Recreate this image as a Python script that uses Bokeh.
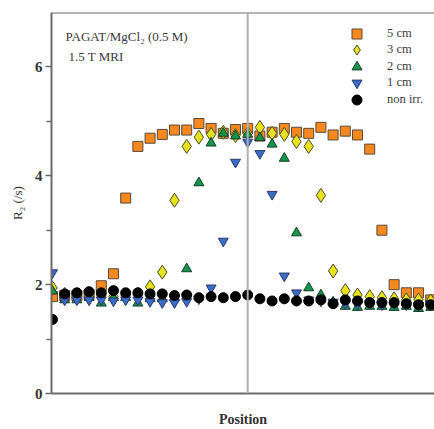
from bokeh.plotting import figure
from bokeh.models import Range1d, FixedTicker, Span, Label, Legend, LegendItem, ColumnDataSource
from bokeh.embed import file_html
from bokeh.resources import INLINE

# Data: position index 0..31
position = list(range(32))
cm5 = [1.78, 1.80, 1.80, 1.82, 1.98, 2.20, 3.59, 4.54, 4.69, 4.76, 4.84, 4.84, 4.96, 4.87, 4.78, 4.85,
       4.87, 4.73, 4.80, 4.87, 4.80, 4.78, 4.89, 4.75, 4.82, 4.75, 4.49, 3.00, 2.00, 1.85, 1.85, 1.72]
cm3 = [1.94, 1.82, 1.80, 1.78, 1.80, 1.78, 1.80, 1.82, 1.96, 2.23, 3.55, 4.54, 4.71, 4.76, 4.80, 4.74,
       4.78, 4.89, 4.78, 4.76, 4.63, 4.54, 3.64, 2.25, 1.89, 1.81, 1.78, 1.76, 1.74, 1.72, 1.72, 1.70]
cm2 = [1.88, 1.72, 1.72, 1.76, 1.66, 1.76, 1.76, 1.66, 1.74, 1.74, 1.76, 2.29, 3.87, 4.60, 4.78, 4.73,
       4.76, 4.70, 4.58, 4.32, 2.95, 1.94, 1.81, 1.68, 1.60, 1.58, 1.60, 1.60, 1.58, 1.60, 1.56, 1.58]
cm1 = [2.22, 1.72, 1.72, 1.72, 1.72, 1.70, 1.72, 1.72, 1.69, 1.67, 1.67, 1.69, 1.74, 1.94, 2.80, 4.25,
       4.62, 4.41, 3.66, 2.16, 1.85, 1.72, 1.70, 1.68, 1.65, 1.64, 1.65, 1.63, 1.65, 1.63, 1.62, 1.65]
nonirr = [1.36, 1.83, 1.85, 1.87, 1.85, 1.89, 1.85, 1.85, 1.83, 1.83, 1.80, 1.81, 1.76, 1.78, 1.76, 1.78,
          1.81, 1.74, 1.70, 1.74, 1.70, 1.70, 1.72, 1.65, 1.72, 1.70, 1.67, 1.67, 1.67, 1.65, 1.63, 1.63]
center_position = 16
y_ticks = [0, 2, 4, 6]
legend_labels = ["5 cm", "3 cm", "2 cm", "1 cm", "non irr."]

SERIF = "Liberation Serif"
AXIS_COL = "#6b6b6b"

p = figure(width=434, height=429, output_backend="svg", toolbar_location=None,
           x_range=Range1d(-0.08, 31.31), y_range=Range1d(0, 7))
p.min_border_left = 51
p.min_border_right = 0
p.min_border_top = 12
p.min_border_bottom = 35
p.outline_line_color = None
p.background_fill_color = "white"
p.border_fill_color = "white"
p.grid.visible = False

# top border line
p.add_layout(Span(location=7, dimension="width", line_color=AXIS_COL, line_width=2))
# center vertical line
p.add_layout(Span(location=center_position, dimension="height", line_color="#b0b0b0", line_width=2))

src = ColumnDataSource(dict(x=position, a=cm5, b=cm3, c=cm2, d=cm1, e=nonirr))
r5 = p.scatter("x", "a", source=src, marker="square", size=10, fill_color="#F5891F",
               line_color="#5a4a3a", line_width=1)
r3 = p.scatter("x", "b", source=src, marker="diamond", size=14, fill_color="#E8E21E",
               line_color="#4a4a2a", line_width=1)
r2 = p.scatter("x", "c", source=src, marker="triangle", size=10, fill_color="#12964A",
               line_color="#1a3a2a", line_width=1)
r1 = p.scatter("x", "d", source=src, marker="inverted_triangle", size=10, fill_color="#3C6BC8",
               line_color="#2a3a6a", line_width=1)
r0 = p.scatter("x", "e", source=src, marker="circle", size=10, fill_color="black",
               line_color="black", line_width=1)

# one legend box per row so that rows can be packed tightly with large glyphs
row_pitch = 16.5
for k, (lab, r) in enumerate(zip(legend_labels, [r5, r3, r2, r1, r0])):
    lg = Legend(items=[LegendItem(label=lab, renderers=[r])],
                location=(293, 347.5 - k * row_pitch), orientation="vertical")
    lg.background_fill_alpha = 0
    lg.border_line_color = None
    lg.padding = 0
    lg.margin = 0
    lg.spacing = 0
    lg.glyph_width = 25
    lg.glyph_height = 25
    lg.label_height = 25
    lg.label_standoff = 18
    lg.label_text_font = SERIF
    lg.label_text_font_size = "12.5px"
    lg.label_text_color = "#3a3a3a"
    p.add_layout(lg, "center")

# annotations
p.add_layout(Label(x=14, y=357, x_units="screen", y_units="screen",
                   text="PAGAT/MgCl\u2082 (0.5 M)", text_font=SERIF, text_font_size="13px",
                   text_color="#3a3a3a", text_baseline="middle"))
p.add_layout(Label(x=17, y=337, x_units="screen", y_units="screen",
                   text="1.5 T MRI", text_font=SERIF, text_font_size="13px",
                   text_color="#3a3a3a", text_baseline="middle"))

# y axis
ya = p.yaxis[0]
ya.ticker = FixedTicker(ticks=y_ticks, minor_ticks=[1, 3, 5])
ya.axis_line_color = AXIS_COL
ya.axis_line_width = 2
ya.major_tick_line_color = AXIS_COL
ya.minor_tick_line_color = AXIS_COL
ya.major_tick_line_width = 1.5
ya.minor_tick_line_width = 1.5
ya.major_tick_out = 6
ya.major_tick_in = 0
ya.minor_tick_out = 5
ya.minor_tick_in = 0
ya.major_label_text_font = SERIF
ya.major_label_text_font_style = "bold"
ya.major_label_text_font_size = "15px"
ya.major_label_text_color = "#333333"
ya.major_label_standoff = 3
ya.axis_label = "R\u2082 (/s)"
ya.axis_label_text_font = SERIF
ya.axis_label_text_font_style = "normal"
ya.axis_label_text_font_size = "13px"
ya.axis_label_text_color = "#333333"
ya.axis_label_standoff = 7

# x axis
xa = p.xaxis[0]
xa.ticker = FixedTicker(ticks=[])
xa.axis_line_color = AXIS_COL
xa.axis_line_width = 2
xa.major_tick_line_color = None
xa.minor_tick_line_color = None
xa.major_label_text_font_size = "0px"
xa.axis_label = "Position"
xa.axis_label_text_font = SERIF
xa.axis_label_text_font_style = "bold"
xa.axis_label_text_font_size = "14px"
xa.axis_label_text_color = "#333333"
xa.axis_label_standoff = 18

open("out.html", "w").write(file_html(p, INLINE))
